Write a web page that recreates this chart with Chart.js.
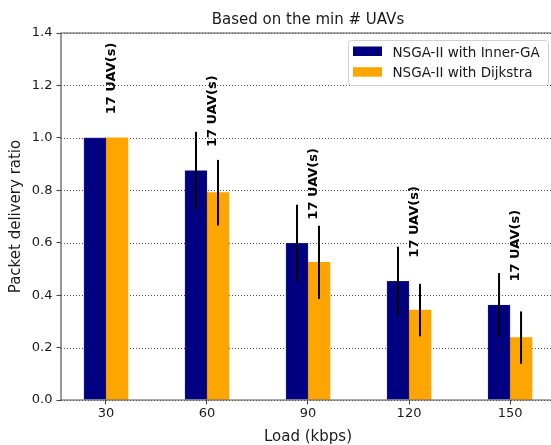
<!DOCTYPE html>
<html><head><meta charset="utf-8">
<script src="https://cdn.jsdelivr.net/npm/chart.js@4.4.0/dist/chart.umd.min.js"></script>
<style>html,body{margin:0;padding:0;overflow:hidden;background:#fff}</style>
</head><body>
<canvas id="c" width="556" height="445"></canvas>
<script>
// ---- data ----
const categories = ['30', '60', '90', '120', '150'];
const seriesNames = ['NSGA-II with Inner-GA', 'NSGA-II with Dijkstra'];
const innerGA = [1.0, 0.875, 0.598, 0.453, 0.362];
const innerGAErr = [0, 0.148, 0.147, 0.132, 0.122];
const dijkstra = [1.0, 0.791, 0.525, 0.343, 0.238];
const dijkstraErr = [0, 0.125, 0.140, 0.100, 0.100];
const uavLabels = ['17 UAV(s)', '17 UAV(s)', '17 UAV(s)', '17 UAV(s)', '17 UAV(s)'];
const yTicks = [0.0, 0.2, 0.4, 0.6, 0.8, 1.0, 1.2, 1.4];
const titleText = 'Based on the min # UAVs';
const xTitle = 'Load (kbps)';
const yTitle = 'Packet delivery ratio';
const colors = ['#000080', '#FFA500'];

const FONT = "'DejaVu Sans', sans-serif";
const errs = [innerGAErr, dijkstraErr];

const deco = {
  id: 'deco',
  beforeDatasetsDraw(chart) {
    const {ctx, chartArea: a, scales: {y}} = chart;
    ctx.save();
    ctx.strokeStyle = '#3a3a3a';
    ctx.lineWidth = 0.9;
    ctx.setLineDash([1, 2]);
    yTicks.forEach(v => {
      const py = Math.round(y.getPixelForValue(v)) + 0.5;
      ctx.beginPath(); ctx.moveTo(a.left, py); ctx.lineTo(a.right, py); ctx.stroke();
    });
    ctx.restore();
  },
  afterDatasetsDraw(chart) {
    const {ctx, chartArea: a, scales: {x, y}} = chart;
    ctx.save();
    // error bars
    ctx.strokeStyle = '#000';
    ctx.lineWidth = 2;
    chart.data.datasets.forEach((ds, di) => {
      const meta = chart.getDatasetMeta(di);
      meta.data.forEach((bar, i) => {
        const e = errs[di][i];
        if (!e) return;
        const v = ds.data[i].y;
        ctx.beginPath();
        ctx.moveTo(bar.x, y.getPixelForValue(v - e));
        ctx.lineTo(bar.x, y.getPixelForValue(v + e));
        ctx.stroke();
      });
    });
    // spines
    ctx.strokeStyle = '#555';
    ctx.lineWidth = 1.2;
    ctx.beginPath();
    ctx.moveTo(a.right + 5, a.top); ctx.lineTo(a.left, a.top);
    ctx.lineTo(a.left, a.bottom); ctx.lineTo(a.right + 5, a.bottom);
    ctx.stroke();
    // rotated UAV labels
    ctx.fillStyle = '#000';
    ctx.font = 'bold 13px ' + FONT;
    ctx.textAlign = 'left';
    ctx.textBaseline = 'middle';
    categories.forEach((c, i) => {
      const px = x.getPixelForValue(i) + 6;
      const py = y.getPixelForValue(innerGA[i] + 0.09);
      ctx.save();
      ctx.translate(px, py);
      ctx.rotate(-Math.PI / 2);
      ctx.fillText(uavLabels[i], 0, 0);
      ctx.restore();
    });
    // legend
    const lx = 348.5, ly = 40.5, lw = 200, lh = 45, r = 3;
    ctx.beginPath();
    ctx.moveTo(lx + r, ly);
    ctx.lineTo(lx + lw - r, ly); ctx.arcTo(lx + lw, ly, lx + lw, ly + r, r);
    ctx.lineTo(lx + lw, ly + lh - r); ctx.arcTo(lx + lw, ly + lh, lx + lw - r, ly + lh, r);
    ctx.lineTo(lx + r, ly + lh); ctx.arcTo(lx, ly + lh, lx, ly + lh - r, r);
    ctx.lineTo(lx, ly + r); ctx.arcTo(lx, ly, lx + r, ly, r);
    ctx.closePath();
    ctx.fillStyle = 'rgba(255,255,255,0.8)';
    ctx.fill();
    ctx.strokeStyle = '#d0d0d0';
    ctx.lineWidth = 1;
    ctx.stroke();
    ctx.font = '13.5px ' + FONT;
    ctx.textBaseline = 'alphabetic';
    seriesNames.forEach((n, i) => {
      const ry = 46.5 + i * 20.7;
      ctx.fillStyle = colors[i];
      ctx.fillRect(353, ry, 29, 9.5);
      ctx.fillStyle = '#1a1a1a';
      ctx.fillText(n, 392.5, ry + 10);
    });
    // title
    ctx.fillStyle = '#1a1a1a';
    ctx.textAlign = 'center';
    ctx.font = '15px ' + FONT;
    ctx.fillText(titleText, (a.left + a.right) / 2, 23.5);
    ctx.fillText(xTitle, (a.left + a.right) / 2, 441);
    ctx.save();
    ctx.translate(19.5, (a.top + a.bottom) / 2);
    ctx.rotate(-Math.PI / 2);
    ctx.fillText(yTitle, 0, 0);
    ctx.restore();
    ctx.restore();
  }
};

new Chart(document.getElementById('c'), {
  type: 'bar',
  data: {
    datasets: [
      { label: seriesNames[0], data: categories.map((c, i) => ({x: i, y: innerGA[i]})),
        backgroundColor: colors[0], borderColor: '#2a2a9a', borderWidth: 0.6, barThickness: 22 },
      { label: seriesNames[1], data: categories.map((c, i) => ({x: i, y: dijkstra[i]})),
        backgroundColor: colors[1], borderWidth: 0, barThickness: 22 }
    ]
  },
  options: {
    responsive: false,
    animation: false,
    devicePixelRatio: 1,
    layout: { padding: { top: 33, left: 0, right: 1, bottom: 0 } },
    plugins: { legend: { display: false }, title: { display: false }, tooltip: { enabled: false } },
    scales: {
      x: {
        type: 'linear', min: -0.445, max: 4.445, offset: false,
        afterBuildTicks: s => { s.ticks = categories.map((c, i) => ({value: i})); },
        afterFit: s => { s.height = 45; },
        grid: { offset: false, drawOnChartArea: false, drawTicks: true, tickLength: 4.5, tickColor: '#444', tickWidth: 1.1 },
        border: { display: false },
        ticks: { padding: 1.5, color: '#1a1a1a', font: { family: FONT, size: 13 }, maxRotation: 0, autoSkip: false,
          callback: v => categories[v] }
      },
      y: {
        min: 0, max: 1.4,
        afterBuildTicks: s => { s.ticks = yTicks.map(v => ({value: v})); },
        afterFit: s => { s.width = 61; },
        grid: { drawOnChartArea: false, drawTicks: true, tickLength: 4.5, tickColor: '#444', tickWidth: 1.1 },
        border: { display: false },
        ticks: { padding: 4, color: '#1a1a1a', font: { family: FONT, size: 13 }, callback: v => v.toFixed(1) }
      }
    }
  },
  plugins: [deco]
});
</script>
</body></html>
